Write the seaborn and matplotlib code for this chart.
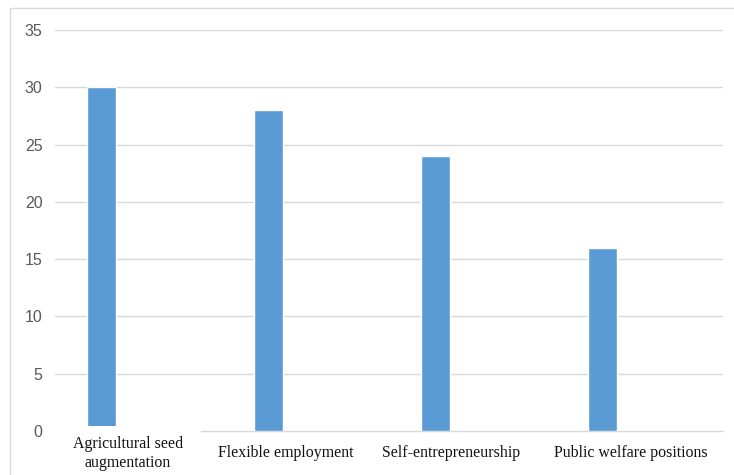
import matplotlib
matplotlib.use("Agg")
import matplotlib.pyplot as plt
import matplotlib.patches as mpatches
import matplotlib.transforms as mtransforms
import seaborn as sns
import pandas as pd

categories = ["Agricultural seed\naugmentation", "Flexible employment",
              "Self-entrepreneurship", "Public welfare positions"]
values = [30, 28, 24, 16]
yticks = [0, 5, 10, 15, 20, 25, 30, 35]

BAR_COLOR = "#5B9BD5"
GRID_COLOR = "#D9D9D9"
TICK_COLOR = "#595959"

W, H = 734, 475
DPI = 100

sns.set_theme(style="white")
plt.rcParams["font.family"] = ["Liberation Sans", "DejaVu Sans"]

fig = plt.figure(figsize=(W / DPI, H / DPI), dpi=DPI)
fig.patch.set_facecolor("white")

# plot area in pixels: x 55..723, y 30..431
ax = fig.add_axes([55 / W, (H - 431) / H, (723 - 55) / W, (431 - 30) / H])

df = pd.DataFrame({"category": categories, "value": values})
sns.barplot(data=df, x="category", y="value", color=BAR_COLOR,
            width=0.174, saturation=1, ax=ax, zorder=3)

ax.set_xlim(-0.278, 3.722)
ax.set_ylim(0, 35)
ax.set_yticks(yticks)
ax.set_yticklabels([str(t) for t in yticks], fontsize=11.5, color=TICK_COLOR,
                   family=["Liberation Sans", "DejaVu Sans"])
ax.tick_params(axis="y", length=0, pad=9)
ax.set_xticks([])
ax.set_xlabel("")
ax.set_ylabel("")
ax.yaxis.grid(True, color=GRID_COLOR, linewidth=1.0, zorder=0)
ax.set_axisbelow(True)
# the zero line is drawn by the bottom spine only
ax.yaxis.get_gridlines()[0].set_visible(False)
for side in ["left", "right", "top"]:
    ax.spines[side].set_visible(False)
ax.spines["bottom"].set_color(GRID_COLOR)
ax.spines["bottom"].set_linewidth(1.0)
ax.spines["bottom"].set_zorder(1)
ax.spines["bottom"].set_bounds(0.596, 3.722)

# category labels, set slightly right of their bars
label_shift = [0.159, 0.102, 0.096, 0.171]
trans = mtransforms.blended_transform_factory(ax.transData, ax.transAxes)
for i, (cat, dx) in enumerate(zip(categories, label_shift)):
    if "\n" in cat:
        ax.text(i + dx, -0.012, cat, transform=trans, ha="center", va="top",
                fontsize=11.4, family=["Liberation Serif", "DejaVu Serif"],
                color="#111111", linespacing=1.3, zorder=5,
                bbox=dict(boxstyle="square,pad=0.6", facecolor="white",
                          edgecolor="none"))
    else:
        ax.text(i + dx, -0.035, cat, transform=trans, ha="center", va="top",
                fontsize=11.4, family=["Liberation Serif", "DejaVu Serif"],
                color="#111111", zorder=5)

# chart-area frame
frame = mpatches.Rectangle((10 / W, -0.1), 1.2, 1.1 - 8 / H,
                           transform=fig.transFigure, fill=False,
                           edgecolor=GRID_COLOR, linewidth=1.0)
fig.patches.append(frame)

fig.savefig("out.png", dpi=DPI)
